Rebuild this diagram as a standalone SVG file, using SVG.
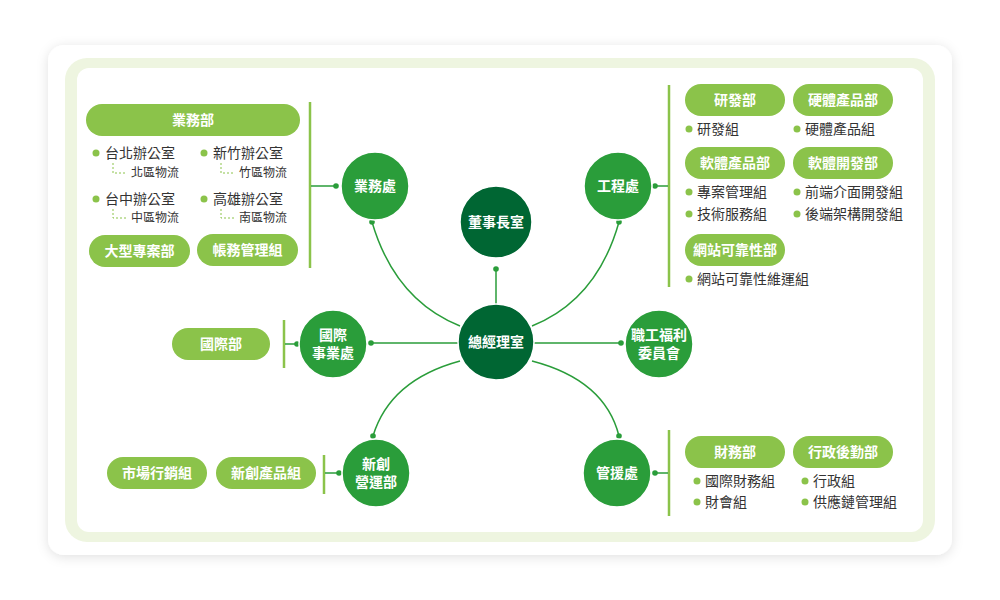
<svg xmlns="http://www.w3.org/2000/svg" width="1000" height="600" viewBox="0 0 1000 600">
<defs>
<filter id="sh" x="-10%" y="-10%" width="120%" height="120%"><feDropShadow dx="0" dy="2" stdDeviation="6" flood-color="#000" flood-opacity="0.12"/></filter>
<marker id="dot" viewBox="0 0 6 6" refX="3" refY="3" markerWidth="6" markerHeight="6" markerUnits="userSpaceOnUse"><circle cx="3" cy="3" r="2.8" fill="#2a9d3a"/></marker>
<style>
text{font-family:"Noto Sans CJK TC","Noto Sans CJK SC",sans-serif}
.n{fill:#2a9d3a;stroke:#fff;stroke-width:1.5}
.d{fill:#006633;stroke:#fff;stroke-width:1.5}
.nt{fill:#fff;font-size:14px;font-weight:bold;text-anchor:middle}
.p{fill:#8bc34a}
.pt{fill:#fff;font-size:14px;font-weight:bold;text-anchor:middle}
.it{fill:#333;font-size:14px}
.st{fill:#333;font-size:12px}
.b{fill:#8bc34a}
.c{fill:none;stroke:#2a9d3a;stroke-width:1.5}
.bar{stroke:#8bc34a;stroke-width:2.5;fill:none}
.dash{fill:none;stroke:#8bc34a;stroke-width:1;stroke-dasharray:2 2}
</style>
</defs>
<rect width="1000" height="600" fill="#fff"/>
<rect x="48" y="45" width="904" height="510" rx="16" fill="#fff" filter="url(#sh)"/>
<rect x="65" y="58" width="870" height="484" rx="22" fill="#eef5e0"/>
<rect x="77" y="68" width="846" height="464" rx="12" fill="#fff"/>

<g id="connectors">
<line class="c" x1="496" y1="304" x2="496" y2="269" marker-end="url(#dot)"/>
<path class="c" d="M460 326 Q395 300 372 222" marker-end="url(#dot)"/>
<path class="c" d="M532 326 Q597 300 619 222" marker-end="url(#dot)"/>
<line class="c" x1="458" y1="343" x2="371" y2="343" marker-end="url(#dot)"/>
<line class="c" x1="534" y1="343" x2="621" y2="343" marker-end="url(#dot)"/>
<path class="c" d="M460 361 Q390 380 373 436" marker-end="url(#dot)"/>
<path class="c" d="M532 361 Q605 380 619 436" marker-end="url(#dot)"/>
<line class="bar" x1="310" y1="102" x2="310" y2="268"/>
<line class="c" x1="311" y1="186" x2="336" y2="186" marker-end="url(#dot)"/>
<line class="bar" x1="669" y1="85" x2="669" y2="287"/>
<line class="c" x1="668" y1="186" x2="655" y2="186" marker-end="url(#dot)"/>
<line class="bar" x1="284" y1="320" x2="284" y2="368"/>
<line class="c" x1="285" y1="344" x2="297" y2="344" marker-end="url(#dot)"/>
<line class="bar" x1="324" y1="455" x2="324" y2="494"/>
<line class="c" x1="325" y1="473" x2="339" y2="473" marker-end="url(#dot)"/>
<line class="bar" x1="669" y1="430" x2="669" y2="516"/>
<line class="c" x1="668" y1="473" x2="655" y2="473" marker-end="url(#dot)"/>
</g>

<g id="n-chair"><circle class="d" cx="496" cy="222" r="36"/><text class="nt" x="496" y="227">董事長室</text></g>
<g id="n-gm"><circle class="d" cx="496" cy="342" r="38"/><text class="nt" x="496" y="347" font-size="15">總經理室</text></g>
<g id="n-biz"><circle class="n" cx="375" cy="186" r="34"/><text class="nt" x="375" y="191" font-size="13">業務處</text></g>
<g id="n-eng"><circle class="n" cx="618" cy="186" r="34"/><text class="nt" x="618" y="191" font-size="13">工程處</text></g>
<g id="n-intl"><circle class="n" cx="333" cy="344" r="34"/><text class="nt" x="333" y="340">國際</text><text class="nt" x="333" y="358">事業處</text></g>
<g id="n-welfare"><circle class="n" cx="659" cy="344" r="34"/><text class="nt" x="659" y="340">職工福利</text><text class="nt" x="659" y="358">委員會</text></g>
<g id="n-startup"><circle class="n" cx="376" cy="473" r="34"/><text class="nt" x="376" y="469">新創</text><text class="nt" x="376" y="487">營運部</text></g>
<g id="n-admin"><circle class="n" cx="617" cy="473" r="34"/><text class="nt" x="617" y="478">管援處</text></g>

<g id="g-biz">
<rect class="p" x="86" y="104" width="214" height="32" rx="16"/><text class="pt" x="193" y="125">業務部</text>
<circle class="b" cx="96" cy="153" r="3.5"/><text class="it" x="105" y="158">台北辦公室</text>
<path class="dash" d="M113 163 V173 H127"/><text class="st" x="131" y="177">北區物流</text>
<circle class="b" cx="204" cy="153" r="3.5"/><text class="it" x="213" y="158">新竹辦公室</text>
<path class="dash" d="M221 163 V173 H235"/><text class="st" x="239" y="177">竹區物流</text>
<circle class="b" cx="96" cy="199" r="3.5"/><text class="it" x="105" y="204">台中辦公室</text>
<path class="dash" d="M113 209 V218 H127"/><text class="st" x="131" y="222">中區物流</text>
<circle class="b" cx="204" cy="199" r="3.5"/><text class="it" x="213" y="204">高雄辦公室</text>
<path class="dash" d="M221 209 V218 H235"/><text class="st" x="239" y="222">南區物流</text>
<rect class="p" x="89" y="235" width="101" height="32" rx="16"/><text class="pt" x="139.5" y="256">大型專案部</text>
<rect class="p" x="197" y="234" width="101" height="32" rx="16"/><text class="pt" x="247.5" y="255">帳務管理組</text>
</g>

<g id="g-eng">
<rect class="p" x="685" y="84" width="100" height="32" rx="16"/><text class="pt" x="735" y="105">研發部</text>
<rect class="p" x="793" y="84" width="100" height="32" rx="16"/><text class="pt" x="843" y="105">硬體產品部</text>
<circle class="b" cx="689" cy="129" r="3.5"/><text class="it" x="697" y="134">研發組</text>
<circle class="b" cx="797" cy="129" r="3.5"/><text class="it" x="805" y="134">硬體產品組</text>
<rect class="p" x="685" y="147" width="100" height="32" rx="16"/><text class="pt" x="735" y="168">軟體產品部</text>
<rect class="p" x="793" y="147" width="100" height="32" rx="16"/><text class="pt" x="843" y="168">軟體開發部</text>
<circle class="b" cx="689" cy="192" r="3.5"/><text class="it" x="697" y="197">專案管理組</text>
<circle class="b" cx="689" cy="214" r="3.5"/><text class="it" x="697" y="219">技術服務組</text>
<circle class="b" cx="797" cy="192" r="3.5"/><text class="it" x="805" y="197">前端介面開發組</text>
<circle class="b" cx="797" cy="214" r="3.5"/><text class="it" x="805" y="219">後端架構開發組</text>
<rect class="p" x="685" y="234" width="100" height="32" rx="16"/><text class="pt" x="735" y="255">網站可靠性部</text>
<circle class="b" cx="689" cy="279" r="3.5"/><text class="it" x="697" y="284">網站可靠性維運組</text>
</g>

<g id="g-intl"><rect class="p" x="172" y="328" width="98" height="32" rx="16"/><text class="pt" x="221" y="349">國際部</text></g>

<g id="g-startup">
<rect class="p" x="107" y="457" width="100" height="32" rx="16"/><text class="pt" x="157" y="478">市場行銷組</text>
<rect class="p" x="216" y="457" width="100" height="32" rx="16"/><text class="pt" x="266" y="478">新創產品組</text>
</g>

<g id="g-admin">
<rect class="p" x="685" y="436" width="100" height="32" rx="16"/><text class="pt" x="735" y="457">財務部</text>
<rect class="p" x="793" y="436" width="100" height="32" rx="16"/><text class="pt" x="843" y="457">行政後勤部</text>
<circle class="b" cx="697" cy="481" r="3.5"/><text class="it" x="705" y="486">國際財務組</text>
<circle class="b" cx="697" cy="502" r="3.5"/><text class="it" x="705" y="507">財會組</text>
<circle class="b" cx="805" cy="481" r="3.5"/><text class="it" x="813" y="486">行政組</text>
<circle class="b" cx="805" cy="502" r="3.5"/><text class="it" x="813" y="507">供應鏈管理組</text>
</g>
</svg>
